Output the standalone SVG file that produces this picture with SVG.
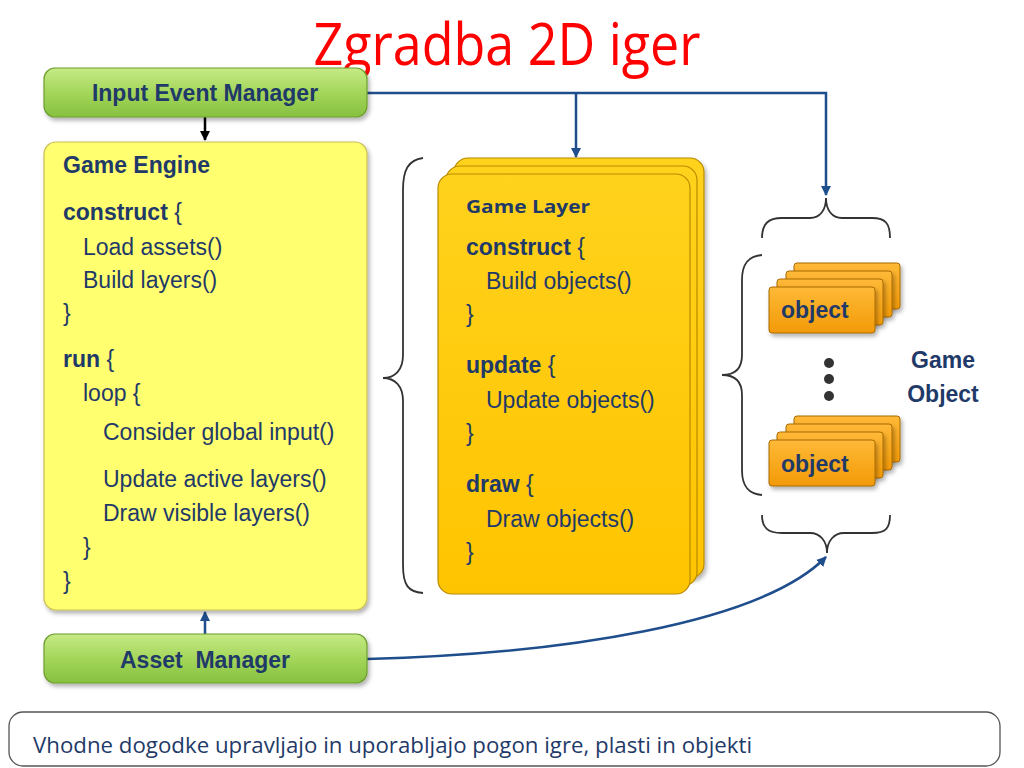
<svg xmlns="http://www.w3.org/2000/svg" width="1024" height="768" viewBox="0 0 1024 768">
<defs>
<style>
.t{font-family:"Liberation Sans",Arial,sans-serif;font-size:23px;fill:#1F3A68}
.b{font-weight:bold}
.mgr{font-family:"Liberation Sans",Arial,sans-serif;font-size:23px;font-weight:bold;fill:#1F3A68;text-anchor:middle}
.conn{fill:none;stroke:#1F4E8C;stroke-width:2.5}
.brace{fill:none;stroke:#333;stroke-width:1.8}
.green{fill:url(#gGreen);stroke:#6E9E2E;stroke-width:1.2}
.card{fill:url(#gGold);stroke:#B88A00;stroke-width:1.2}
.obj{fill:url(#gOrange);stroke:#A86A00;stroke-width:1}
</style>
<linearGradient id="gGreen" x1="0" y1="0" x2="0" y2="1">
<stop offset="0" stop-color="#C6EA86"/><stop offset="0.5" stop-color="#A4D65A"/><stop offset="1" stop-color="#86C140"/>
</linearGradient>
<linearGradient id="gGold" x1="0" y1="0" x2="0" y2="1">
<stop offset="0" stop-color="#FFD21C"/><stop offset="1" stop-color="#FFC400"/>
</linearGradient>
<linearGradient id="gOrange" x1="0" y1="0" x2="0" y2="1">
<stop offset="0" stop-color="#FFB938"/><stop offset="1" stop-color="#F29A06"/>
</linearGradient>
<filter id="sh" x="-10%" y="-10%" width="125%" height="130%">
<feDropShadow dx="2" dy="3" stdDeviation="2" flood-color="#000" flood-opacity="0.3"/>
</filter>
<marker id="aBlue" viewBox="0 0 10 10" refX="9" refY="5" markerWidth="4" markerHeight="4" orient="auto" markerUnits="strokeWidth">
<path d="M0,0 L10,5 L0,10 z" fill="#1F4E8C"/>
</marker>
<marker id="aBlack" viewBox="0 0 10 10" refX="9" refY="5" markerWidth="4" markerHeight="4" orient="auto" markerUnits="strokeWidth">
<path d="M0,0 L10,5 L0,10 z" fill="#000"/>
</marker>
</defs>
<rect width="1024" height="768" fill="#fff"/>

<text x="507" y="65" text-anchor="middle" font-family="'Open Sans','Liberation Sans',sans-serif" font-size="59" fill="#FF0000" textLength="387" lengthAdjust="spacingAndGlyphs">Zgradba 2D iger</text>

<g id="connectors">
<line x1="205" y1="117" x2="205" y2="140" stroke="#000" stroke-width="2.5" marker-end="url(#aBlack)"/>
<line x1="205" y1="634" x2="205" y2="612" class="conn" marker-end="url(#aBlue)"/>
<path d="M367,93 H826 V195" class="conn" marker-end="url(#aBlue)"/>
<path d="M576,93 V157" class="conn" marker-end="url(#aBlue)"/>
<path d="M367,659 C560,654 760,624 826,557" class="conn" marker-end="url(#aBlue)"/>
</g>

<g id="input-event-manager">
<rect x="44" y="68" width="323" height="49" rx="11" class="green" filter="url(#sh)"/>
<text x="205" y="101" class="mgr">Input Event Manager</text>
</g>

<g id="game-engine">
<rect x="44" y="142" width="323" height="468" rx="12" fill="#FFFF70" stroke="#C9BE55" stroke-width="1.2" filter="url(#sh)"/>
<text x="63" y="173" class="t b">Game Engine</text>
<text x="63" y="220" class="t"><tspan class="b">construct</tspan> {</text>
<text x="83" y="255" class="t">Load assets()</text>
<text x="83" y="288" class="t">Build layers()</text>
<text x="63" y="321" class="t">}</text>
<text x="63" y="367" class="t"><tspan class="b">run</tspan> {</text>
<text x="83" y="401" class="t">loop {</text>
<text x="103" y="440" class="t">Consider global input()</text>
<text x="103" y="487" class="t">Update active layers()</text>
<text x="103" y="521" class="t">Draw visible layers()</text>
<text x="83" y="555" class="t">}</text>
<text x="63" y="589" class="t">}</text>
</g>

<g id="asset-manager">
<rect x="44" y="634" width="323" height="49" rx="11" class="green" filter="url(#sh)"/>
<text x="205" y="668" class="mgr" xml:space="preserve">Asset  Manager</text>
</g>

<g id="layers-brace">
<path d="M423,158 C408,160 403,170 403,190 V355 C403,370 395,378 383,378 C395,378 403,386 403,401 V565 C403,585 408,592 423,593" class="brace"/>
</g>

<g id="game-layer">
<rect x="454" y="158" width="250" height="420" rx="14" class="card" filter="url(#sh)"/>
<rect x="446" y="166" width="251" height="420" rx="14" class="card"/>
<rect x="438" y="174" width="252" height="420" rx="14" class="card"/>
<text x="466" y="213" font-family="'Open Sans','Liberation Sans',sans-serif" font-size="18" font-weight="bold" fill="#1F3A68" textLength="124" lengthAdjust="spacingAndGlyphs">Game Layer</text>
<text x="466" y="255" class="t"><tspan class="b">construct</tspan> {</text>
<text x="486" y="289" class="t">Build objects()</text>
<text x="466" y="322" class="t">}</text>
<text x="466" y="373" class="t"><tspan class="b">update</tspan> {</text>
<text x="486" y="408" class="t">Update objects()</text>
<text x="466" y="441" class="t">}</text>
<text x="466" y="492" class="t"><tspan class="b">draw</tspan> {</text>
<text x="486" y="527" class="t">Draw objects()</text>
<text x="466" y="560" class="t">}</text>
</g>

<g id="object-braces">
<path d="M762,238 C762,224 768,218 782,218 H810 C820,218 826,210 826,198 C826,210 832,218 842,218 H872 C886,218 890,224 890,238" class="brace"/>
<path d="M762,255 C748,256 742,264 742,280 V355 C742,368 735,375 722,375 C735,375 742,382 742,395 V470 C742,486 748,494 762,495" class="brace"/>
<path d="M762,515 C762,528 768,533 782,533 H810 C820,533 827,541 827,553 C827,541 834,533 844,533 H872 C886,533 890,528 890,515" class="brace"/>
</g>

<g id="object-1">
<rect x="794" y="263" width="106" height="46" rx="3" class="obj" filter="url(#sh)"/>
<rect x="786" y="271" width="106" height="46" rx="3" class="obj" filter="url(#sh)"/>
<rect x="777" y="279" width="106" height="46" rx="3" class="obj" filter="url(#sh)"/>
<rect x="769" y="287" width="106" height="46" rx="3" class="obj" filter="url(#sh)"/>
<text x="781" y="318" class="t b">object</text>
</g>

<g id="dots" fill="#333">
<circle cx="829" cy="363" r="5"/>
<circle cx="829" cy="379" r="5"/>
<circle cx="829" cy="396" r="5"/>
</g>

<g id="object-2">
<rect x="794" y="416" width="106" height="46" rx="3" class="obj" filter="url(#sh)"/>
<rect x="786" y="424" width="106" height="46" rx="3" class="obj" filter="url(#sh)"/>
<rect x="777" y="432" width="106" height="46" rx="3" class="obj" filter="url(#sh)"/>
<rect x="769" y="440" width="106" height="46" rx="3" class="obj" filter="url(#sh)"/>
<text x="781" y="472" class="t b">object</text>
</g>

<g id="game-object-label">
<text x="943" y="368" class="mgr">Game</text>
<text x="943" y="402" class="mgr">Object</text>
</g>

<g id="caption">
<rect x="9" y="712" width="991" height="54" rx="14" fill="#fff" stroke="#555" stroke-width="1.3"/>
<text x="33" y="753" font-family="'Open Sans','Liberation Sans',sans-serif" font-size="21" fill="#1F3A68" textLength="719" lengthAdjust="spacingAndGlyphs">Vhodne dogodke upravljajo in uporabljajo pogon igre, plasti in objekti</text>
</g>
</svg>
